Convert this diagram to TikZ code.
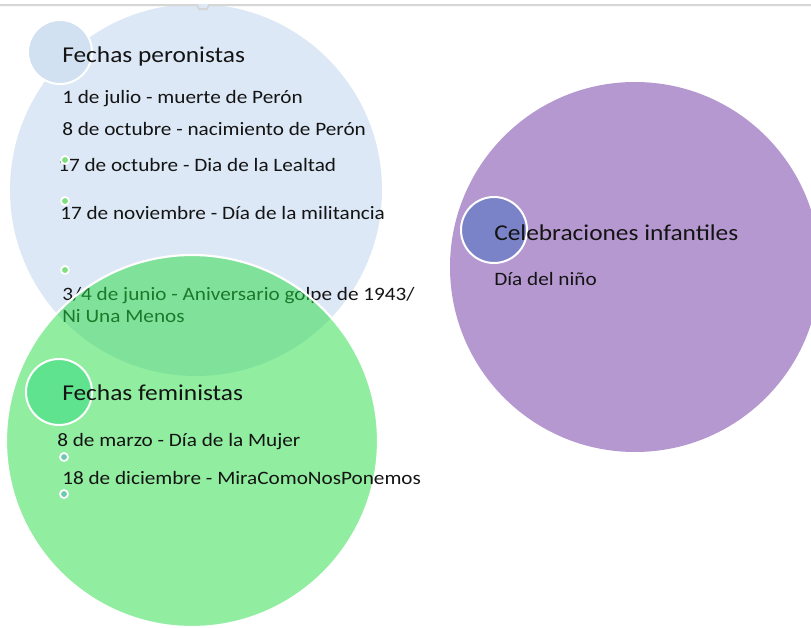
\documentclass[tikz,border=0pt]{standalone}
\usepackage{fontspec}
\setmainfont{Carlito}[FakeStretch=1.12]
\definecolor{bigblue}{HTML}{DCE8F5}
\definecolor{smallblue}{HTML}{D2E1F2}
\definecolor{greenbase}{HTML}{25DD41}
\definecolor{smallgreen}{HTML}{5FE38F}
\definecolor{purplebig}{HTML}{B598D0}
\definecolor{purplesmall}{HTML}{7B83C8}
\definecolor{dotgreen}{HTML}{7DE07D}
\definecolor{dotteal}{HTML}{6CC8B0}
\definecolor{txt}{HTML}{141414}
\definecolor{topline}{HTML}{D6D6D6}
\tikzset{
  titletext/.style={anchor=base west, inner sep=0pt, text=txt, font=\fontsize{17}{20}\selectfont},
  itemtext/.style={anchor=base west, inner sep=0pt, text=txt, font=\fontsize{14.2}{17}\selectfont},
  ring/.style={draw=white, line width=1.5pt},
  dotmark/.style={circle, draw=white, line width=1.3pt, inner sep=0pt, minimum size=6pt},
}
\begin{document}
\begin{tikzpicture}[x=0.75pt,y=-0.75pt]
\useasboundingbox (0,0) rectangle (811,628);
\clip (0,0) rectangle (811,628);
\fill[white] (0,0) rectangle (811,628);
% Peronist group
\path[fill=bigblue] (196,190) circle[radius=186];
\path[fill=smallblue, ring] (60,52) circle[radius=32];
\node[titletext] (tper) at (62,62) {Fechas peronistas};
\node[itemtext] (p1) at (62,103) {1 de julio - muerte de Perón};
\node[itemtext] (p2) at (62,135) {8 de octubre - nacimiento de Perón};
\node[itemtext] (p3) at (58,171) {17 de octubre - Dia de la Lealtad};
\node[itemtext] (p4) at (60,219) {17 de noviembre - Día de la militancia};
\node[itemtext] (p5) at (62,300) {3/4 de junio - Aniversario golpe de 1943/};
\node[itemtext] (p6) at (62,322) {Ni Una Menos};
\node[dotmark, fill=dotgreen] (d1) at (65,160) {};
\node[dotmark, fill=dotgreen] (d2) at (65,201) {};
\node[dotmark, fill=dotgreen] (d3) at (65,270) {};
% Feminist group
\path[fill=greenbase, fill opacity=0.5, draw=white, line width=1.6pt] (192,441) circle[radius=186];
\path[fill=smallgreen, ring] (59,392) circle[radius=33];
\node[titletext] (tfem) at (62,400) {Fechas feministas};
\node[itemtext] (f1) at (57,446) {8 de marzo - Día de la Mujer};
\node[itemtext] (f2) at (62,484) {18 de diciembre - MiraComoNosPonemos};
\node[dotmark, fill=dotteal] (d4) at (64,457) {};
\node[dotmark, fill=dotteal] (d5) at (64,494) {};
% Children group
\path[fill=purplebig] (635,267) circle[radius=185];
\path[fill=purplesmall, ring] (494,230) circle[radius=33];
\node[titletext] (tinf) at (494,240) {Celebraciones infantiles};
\node[itemtext] (i1) at (494,285) {Día del niño};
% top border line
\draw[topline, line width=1.5pt] (0,5) -- (197,5) -- (199,9) -- (207,9) -- (209,5) -- (811,5);
\end{tikzpicture}
\end{document}
